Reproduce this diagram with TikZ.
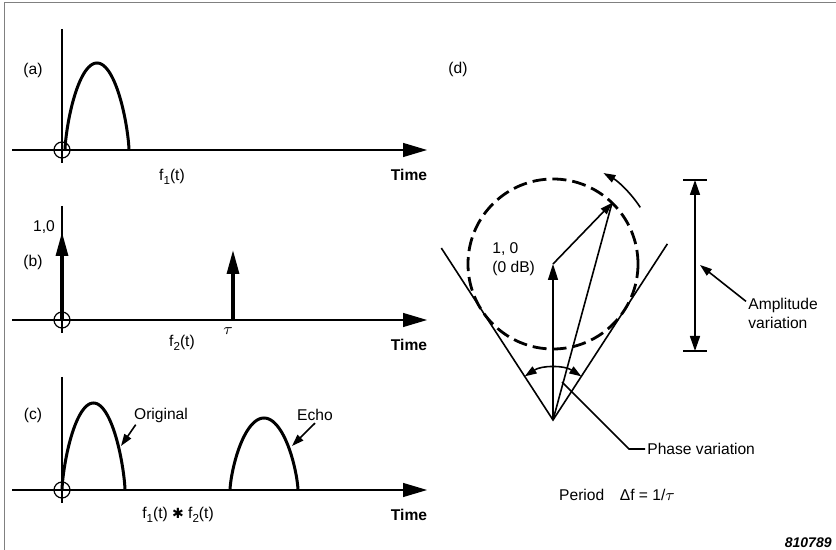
\documentclass[tikz,border=0pt]{standalone}
\usepackage{fontspec}
\setmainfont{Liberation Sans}
\newfontfamily\symfont{DejaVu Sans}
\usetikzlibrary{arrows.meta}
\newcommand{\lo}[1]{\raisebox{-.55ex}{\fontsize{5.8}{6}\selectfont #1}}
\newcommand{\pulse}[4]{plot[domain=.01:179.99,samples=61]({#1+#3*cos(\x)},{#2-#4*sin(\x)^1.4})}
\begin{document}
\begin{tikzpicture}[x=.5pt,y=-.5pt,font=\fontsize{7.8}{9.5}\selectfont,inner sep=1pt,
  ax/.style={line width=.6pt,-{Triangle[length=12pt,width=7pt]}},
  pul/.style={line width=1.5pt},
  imp/.style={line width=1.6pt,-{Triangle[length=12pt,width=6pt]}},
  ph/.style={line width=.8pt},
  tip/.style={-{Triangle[length=6pt,width=4pt]}},
  dashcirc/.style={line width=1.4pt,dash pattern=on 7pt off 3pt}]
\useasboundingbox (0,0) rectangle (836,550);
\draw[gray,line width=.5pt] (4,550)--(4,3)--(836,3);
% time axes
\foreach \n/\y/\t in {a/150/29,b/320/206,c/490/377}{
  \coordinate (o\n) at (62,\y);
  \draw[line width=.6pt] (62,\t)--(62,\y+13);
  \draw[line width=.6pt] (o\n) circle[radius=8];
  \draw[ax] (12,\y)--(427,\y);
  \node (time\n) at (409,\y+25) {\bfseries Time};
}
\node (la) at (33,70) {(a)};
\node (lb) at (33,262) {(b)};
\node (lc) at (33,415) {(c)};
% (a)
\draw[pul] \pulse{97}{150}{32}{87};
\node (fa) at (172,177) {f\lo{1}(t)};
% (b)
\draw[imp] (ob)--(62,232);
\node (one) at (44,227) {1,0};
\coordinate (tb) at (233,320);
\draw[imp] (tb)--(233,250);
\node (tau) at (228,331) {$\tau$};
\node (fb) at (182,343) {f\lo{2}(t)};
% (c)
\draw[pul] \pulse{93.5}{490}{31.5}{87};
\draw[pul] \pulse{264}{490}{34}{72};
\node (orig) at (161,415) {Original};
\node (echo) at (315,415) {Echo};
\coordinate (co) at (121,446);
\coordinate (ce) at (292,446);
\draw[ph,tip] ([xshift=2pt]orig.south west)--(co);
\draw[ph,tip] (echo.south)--(ce);
\node (fc) at (178,515) {f\lo{1}(t) {\symfont\fontsize{7}{8}\selectfont ✱} f\lo{2}(t)};
% (d)
\node (ld) at (458,69) {(d)};
\coordinate (V) at (553,420);
\coordinate (C) at (553,264);
\coordinate (P) at ([shift={(-46:85)}]C);
\coordinate (L) at ([shift={(-123:205)}]V);
\coordinate (R) at ([shift={(-57:210)}]V);
\draw[dashcirc] (C) circle[radius=85];
\draw[ph] (L)--(V)--(R);
\draw[ph,-{Triangle[length=8pt,width=5pt]}] (V)--(C);
\draw[ph,tip] (C)--(P);
\draw[ph] (V)--(P);
\draw[ph,{Triangle[length=6pt,width=4pt]}-{Triangle[length=6pt,width=4pt]}] ([shift={(-123:52)}]V) arc[start angle=-123,end angle=-57,radius=52];
\draw[ph,tip] ([shift={(-33:104)}]C) arc[start angle=-33,end angle=-61,radius=104];
\node[anchor=west,align=left] (unit) at (490,259) {1, 0\\(0 dB)};
% amplitude
\coordinate (at) at (695,180);
\coordinate (ab) at (695,351);
\draw[ph,{Triangle[length=7.5pt,width=5pt]}-{Triangle[length=7.5pt,width=5pt]}] (at)--(ab);
\draw[ph] ([xshift=-6pt]at)--([xshift=6pt]at);
\draw[ph] ([xshift=-6pt]ab)--([xshift=6pt]ab);
\node[anchor=west,align=left] (amp) at (746,313) {Amplitude\\variation};
\coordinate (ap) at (700,265);
\draw[ph,tip] ([yshift=-3pt]amp.north west)--(ap);
% phase
\node[anchor=west] (phase) at (645,449) {Phase variation};
\coordinate (pv) at (562,382);
\draw[ph] (phase.west)--++(-16,0)--(pv);
\node (period) at (617,495) {Period\quad Δf = 1/$\tau$};
\node[anchor=east,font=\fontsize{7}{8}\selectfont\bfseries\itshape] (fig) at (834,543) {810789};
\end{tikzpicture}
\end{document}
